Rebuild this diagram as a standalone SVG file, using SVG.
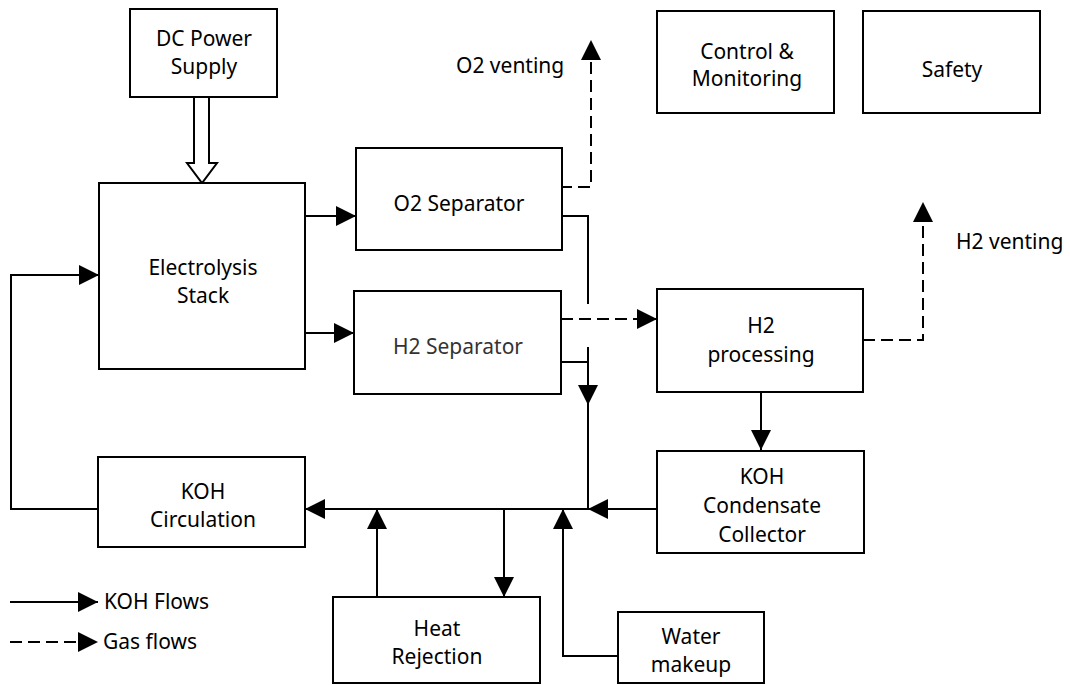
<svg xmlns="http://www.w3.org/2000/svg" width="1070" height="685" viewBox="0 0 1070 685">
<style>
.box{fill:#fff;stroke:#000;stroke-width:2}
.t{font-family:"Noto Sans","Liberation Sans",sans-serif;font-size:21px;fill:#000;text-anchor:middle}
.tl{font-family:"Noto Sans","Liberation Sans",sans-serif;font-size:21px;fill:#000;text-anchor:start}
.ln{fill:none;stroke:#000;stroke-width:2}
.ds{fill:none;stroke:#000;stroke-width:2;stroke-dasharray:12,6}
.arr{marker-end:url(#ah)}
</style>
<defs>
<marker id="ah" viewBox="0 0 20 20" refX="20" refY="10" markerWidth="20" markerHeight="20" markerUnits="userSpaceOnUse" orient="auto">
<path d="M0,0 L20,10 L0,20 z" fill="#000"/>
</marker>
</defs>
<rect width="1070" height="685" fill="#fff"/>

<g id="connectors">
<polygon points="194,97 209,97 209,163 217,163 202,183 187,163 194,163" fill="#fff" stroke="#000" stroke-width="2"/>
<path class="ln arr" d="M305,216 H356"/>
<path class="ln arr" d="M305,333 H354"/>
<path class="ds arr" d="M560,187 H591 V40"/>
<path class="ln" d="M562,216 H588 V304"/>
<path class="ds arr" d="M561,319 H657"/>
<path class="ln" d="M561,362 H588"/>
<path class="ln arr" d="M588,347 V405"/>
<path class="ln" d="M588,400 V509"/>
<path class="ln arr" d="M761,392 V450"/>
<path class="ds arr" d="M863,340 H923 V202"/>
<path class="ln arr" d="M657,509 H588"/>
<path class="ln arr" d="M588,509 H305"/>
<path class="ln arr" d="M377,597 V509"/>
<path class="ln arr" d="M504,509 V597"/>
<path class="ln arr" d="M618,656 H563 V509"/>
<path class="ln arr" d="M98,509 H11 V275 H99"/>
<path class="ln arr" d="M10,602 H98"/>
<path class="ds arr" d="M10,642 H98"/>
</g>

<g id="dc-power">
<rect class="box" x="130" y="9" width="147" height="88"/>
<text class="t" x="204" y="46">DC Power</text>
<text class="t" x="204" y="74">Supply</text>
</g>
<g id="electrolysis-stack">
<rect class="box" x="99" y="183" width="206" height="186"/>
<text class="t" x="203" y="275">Electrolysis</text>
<text class="t" x="203" y="303">Stack</text>
</g>
<g id="o2-separator">
<rect class="box" x="356" y="148" width="206" height="102"/>
<text class="t" x="459" y="211">O2 Separator</text>
</g>
<g id="h2-separator">
<rect class="box" x="354" y="291" width="207" height="103"/>
<text class="t" x="458" y="354" style="fill:#333">H2 Separator</text>
</g>
<g id="h2-processing">
<rect class="box" x="657" y="289" width="206" height="103"/>
<text class="t" x="761" y="333">H2</text>
<text class="t" x="761" y="362">processing</text>
</g>
<g id="koh-condensate">
<rect class="box" x="657" y="451" width="207" height="102"/>
<text class="t" x="762" y="484">KOH</text>
<text class="t" x="762" y="513">Condensate</text>
<text class="t" x="762" y="542">Collector</text>
</g>
<g id="koh-circulation">
<rect class="box" x="98" y="457" width="207" height="90"/>
<text class="t" x="203" y="499">KOH</text>
<text class="t" x="203" y="527">Circulation</text>
</g>
<g id="heat-rejection">
<rect class="box" x="333" y="597" width="207" height="86"/>
<text class="t" x="437" y="636">Heat</text>
<text class="t" x="437" y="664">Rejection</text>
</g>
<g id="water-makeup">
<rect class="box" x="618" y="612" width="146" height="71"/>
<text class="t" x="691" y="644">Water</text>
<text class="t" x="691" y="672">makeup</text>
</g>
<g id="control-monitoring">
<rect class="box" x="657" y="11" width="177" height="102"/>
<text class="t" x="747" y="59">Control &amp;</text>
<text class="t" x="747" y="86">Monitoring</text>
</g>
<g id="safety">
<rect class="box" x="863" y="11" width="177" height="102"/>
<text class="t" x="952" y="77">Safety</text>
</g>
<g id="labels">
<text class="tl" x="456" y="73">O2 venting</text>
<text class="tl" x="956" y="249">H2 venting</text>
<text class="tl" x="104" y="609">KOH Flows</text>
<text class="tl" x="103" y="649">Gas flows</text>
</g>
</svg>
